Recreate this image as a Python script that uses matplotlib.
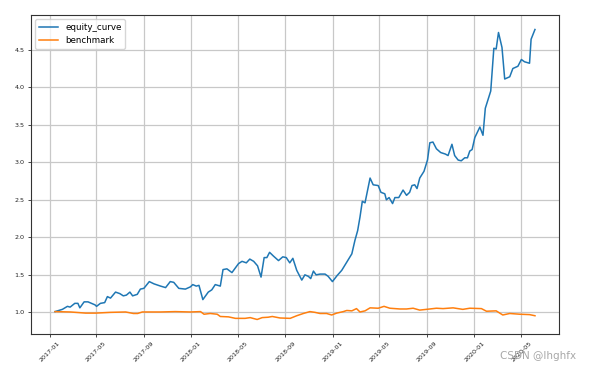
import pandas as pd
import matplotlib
matplotlib.use("Agg")
import matplotlib.pyplot as plt

# equity curve
eq_dates = [
    "2017-01-15", "2017-02-03", "2017-02-16", "2017-02-23", "2017-03-07", "2017-03-15",
    "2017-03-20", "2017-03-31", "2017-04-10", "2017-04-28", "2017-05-02", "2017-05-12",
    "2017-05-23", "2017-05-30", "2017-06-07", "2017-06-20", "2017-07-01", "2017-07-10",
    "2017-07-18", "2017-07-27", "2017-08-03", "2017-08-15", "2017-08-23", "2017-09-01",
    "2017-09-15", "2017-09-27", "2017-10-14", "2017-10-27", "2017-11-08", "2017-11-17",
    "2017-11-30", "2017-12-17", "2017-12-30", "2018-01-05", "2018-01-14", "2018-01-21",
    "2018-01-31", "2018-02-14", "2018-02-23", "2018-03-04", "2018-03-17", "2018-03-24",
    "2018-04-03", "2018-04-16", "2018-05-03", "2018-05-12", "2018-05-23", "2018-06-01",
    "2018-06-11", "2018-06-21", "2018-06-30", "2018-07-08", "2018-07-15", "2018-07-22",
    "2018-08-01", "2018-08-14", "2018-08-25", "2018-09-03", "2018-09-12", "2018-09-20",
    "2018-09-30", "2018-10-13", "2018-10-21", "2018-10-30", "2018-11-05", "2018-11-12",
    "2018-11-19", "2018-11-29", "2018-12-12", "2018-12-20", "2018-12-31", "2019-01-12",
    "2019-01-24", "2019-02-06", "2019-02-19", "2019-02-27", "2019-03-06", "2019-03-12",
    "2019-03-18", "2019-03-25", "2019-04-07", "2019-04-15", "2019-04-28", "2019-05-05",
    "2019-05-15", "2019-05-19", "2019-05-26", "2019-06-04", "2019-06-10", "2019-06-20",
    "2019-07-01", "2019-07-10", "2019-07-18", "2019-07-24", "2019-07-31", "2019-08-06",
    "2019-08-13", "2019-08-24", "2019-09-02", "2019-09-08", "2019-09-16", "2019-09-25",
    "2019-10-06", "2019-10-18", "2019-10-25", "2019-11-04", "2019-11-11", "2019-11-20",
    "2019-11-28", "2019-12-07", "2019-12-14", "2019-12-20", "2019-12-26", "2020-01-02",
    "2020-01-15", "2020-01-23", "2020-01-29", "2020-02-12", "2020-02-20", "2020-02-26",
    "2020-03-03", "2020-03-12", "2020-03-19", "2020-04-01", "2020-04-09", "2020-04-22",
    "2020-05-01", "2020-05-09", "2020-05-22", "2020-05-26", "2020-06-05",
]
eq_values = [
    1.01, 1.04, 1.08, 1.07, 1.12, 1.12,
    1.06, 1.14, 1.14, 1.10, 1.08, 1.12,
    1.13, 1.21, 1.19, 1.27, 1.25, 1.22,
    1.23, 1.27, 1.22, 1.24, 1.31, 1.32,
    1.41, 1.38, 1.35, 1.33, 1.41, 1.40,
    1.32, 1.31, 1.34, 1.37, 1.35, 1.36,
    1.17, 1.27, 1.30, 1.37, 1.35, 1.57,
    1.58, 1.53, 1.65, 1.68, 1.66, 1.71,
    1.68, 1.62, 1.47, 1.73, 1.73, 1.80,
    1.75, 1.69, 1.74, 1.73, 1.66, 1.72,
    1.56, 1.43, 1.50, 1.48, 1.45, 1.55,
    1.50, 1.51, 1.51, 1.48, 1.41, 1.49,
    1.56, 1.67, 1.78, 1.96, 2.09, 2.27,
    2.48, 2.46, 2.79, 2.70, 2.69, 2.60,
    2.58, 2.50, 2.53, 2.45, 2.53, 2.53,
    2.63, 2.56, 2.60, 2.69, 2.70, 2.65,
    2.79, 2.88, 3.03, 3.26, 3.27, 3.18,
    3.13, 3.11, 3.09, 3.24, 3.09, 3.03,
    3.02, 3.06, 3.06, 3.15, 3.17, 3.33,
    3.47, 3.36, 3.72, 3.95, 4.52, 4.51,
    4.73, 4.53, 4.11, 4.14, 4.25, 4.28,
    4.37, 4.34, 4.32, 4.64, 4.77,
]

# benchmark
bm_dates = [
    "2017-01-15", "2017-02-24", "2017-04-04", "2017-04-30", "2017-06-07", "2017-07-16",
    "2017-08-05", "2017-08-16", "2017-08-28", "2017-10-14", "2017-11-21", "2017-12-30",
    "2018-01-25", "2018-02-03", "2018-02-19", "2018-03-09", "2018-03-17", "2018-04-07",
    "2018-04-25", "2018-05-20", "2018-06-02", "2018-06-20", "2018-07-03", "2018-07-18",
    "2018-07-29", "2018-08-18", "2018-09-13", "2018-09-30", "2018-10-17", "2018-11-03",
    "2018-11-16", "2018-11-29", "2018-12-16", "2018-12-29", "2019-01-11", "2019-01-28",
    "2019-02-06", "2019-02-19", "2019-03-03", "2019-03-12", "2019-03-25", "2019-04-07",
    "2019-04-28", "2019-05-13", "2019-05-28", "2019-06-23", "2019-07-10", "2019-07-27",
    "2019-08-13", "2019-09-08", "2019-09-25", "2019-10-12", "2019-11-07", "2019-12-02",
    "2019-12-20", "2020-01-19", "2020-02-01", "2020-02-26", "2020-03-14", "2020-04-01",
    "2020-04-27", "2020-05-22", "2020-06-05",
]
bm_values = [
    1.01, 1.005, 0.99, 0.99, 1.00, 1.005,
    0.985, 0.985, 1.005, 1.005, 1.01, 1.005,
    1.01, 0.975, 0.985, 0.975, 0.945, 0.94,
    0.92, 0.92, 0.93, 0.905, 0.93, 0.935,
    0.945, 0.925, 0.92, 0.955, 0.985, 1.01,
    1.00, 0.985, 0.985, 0.965, 0.99, 1.01,
    1.025, 1.02, 1.05, 1.005, 1.02, 1.06,
    1.055, 1.08, 1.055, 1.045, 1.045, 1.055,
    1.03, 1.045, 1.055, 1.05, 1.06, 1.04,
    1.055, 1.05, 1.015, 1.02, 0.965, 0.985,
    0.975, 0.97, 0.955,
]

equity = pd.Series(eq_values, index=pd.to_datetime(eq_dates))
bench = pd.Series(bm_values, index=pd.to_datetime(bm_dates))

fig = plt.figure(figsize=(5.92, 3.73), dpi=100)
ax = fig.add_axes([0.0524, 0.1046, 0.8918, 0.8552])

ax.plot(equity.index, equity.values, color="#1f77b4", linewidth=1.1, label="equity_curve")
ax.plot(bench.index, bench.values, color="#ff7f0e", linewidth=1.1, label="benchmark")

ax.grid(True, color="#c8c8c8", linewidth=0.9)
ax.tick_params(labelsize=4.6, length=2.2, width=0.5, pad=2.5, labelcolor="#222222")
plt.setp(ax.get_xticklabels(), rotation=45, ha="center")
for s in ax.spines.values():
    s.set_linewidth(0.8)
    s.set_color("#333333")

ax.legend(loc="upper left", fontsize=6.3, handlelength=2.2)

# watermark
fig.text(0.974, 0.045, "CSDN @lhghfx", fontsize=7.5, color="#a8a8a8", ha="right", va="center")

fig.savefig("out.png", dpi=100)
